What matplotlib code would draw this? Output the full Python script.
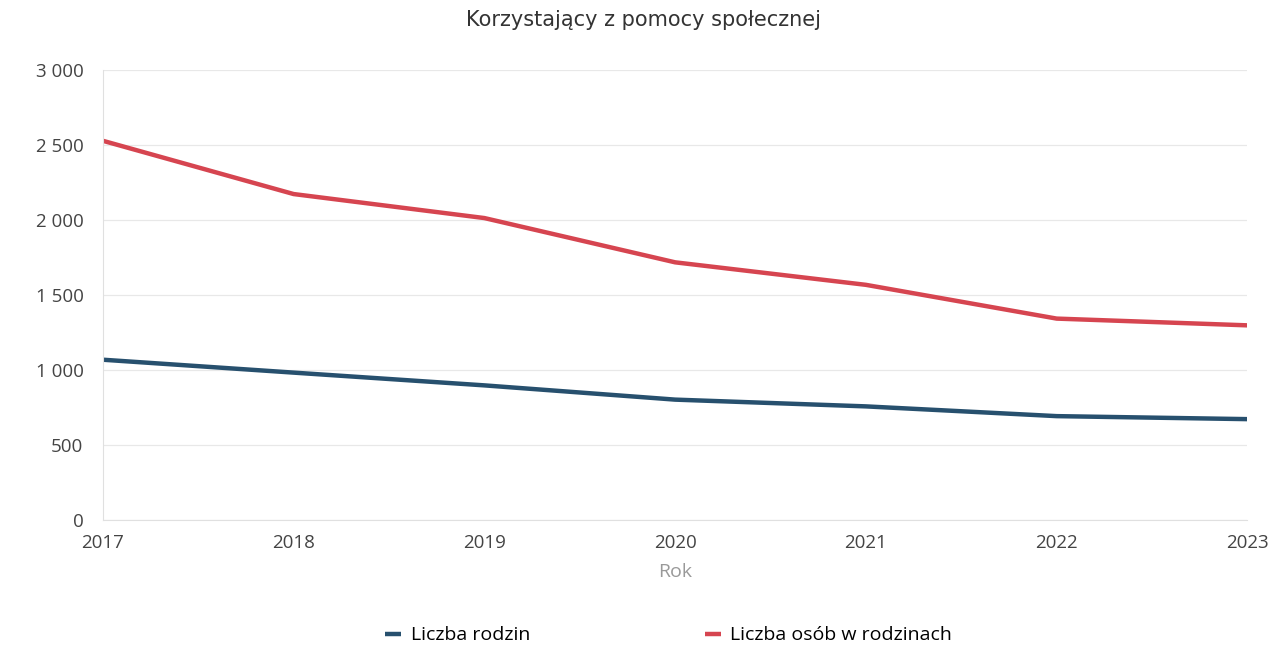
import matplotlib.pyplot as plt
from matplotlib.ticker import FuncFormatter

plt.rcParams['font.family'] = ['Open Sans', 'DejaVu Sans']

years = [2017, 2018, 2019, 2020, 2021, 2022, 2023]
rodziny = [1066, 980, 895, 800, 755, 690, 670]        # Liczba rodzin
osoby = [2525, 2170, 2010, 1715, 1565, 1340, 1295]    # Liczba osób w rodzinach

y_ticks = [0, 500, 1000, 1500, 2000, 2500, 3000]

title = 'Korzystający z pomocy społecznej'
blue = '#27506e'
red = '#d64550'

fig = plt.figure(figsize=(12.86, 6.62), dpi=100)
ax = fig.add_axes([0.08, 0.215, 0.89, 0.68])

ax.plot(years, rodziny, color=blue, linewidth=3.2, solid_capstyle='butt',
        solid_joinstyle='round', label='Liczba rodzin')
ax.plot(years, osoby, color=red, linewidth=3.2, solid_capstyle='butt',
        solid_joinstyle='round', label='Liczba osób w rodzinach')

ax.set_xlim(years[0], years[-1])
ax.set_ylim(0, 3000)
ax.set_xticks(years)
ax.set_yticks(y_ticks)
ax.yaxis.set_major_formatter(FuncFormatter(lambda v, p: f'{int(v):,}'.replace(',', ' ')))

ax.grid(True, axis='y', color='#e8e8e8', linewidth=0.9)
ax.set_axisbelow(True)
for side in ['top', 'right']:
    ax.spines[side].set_visible(False)
ax.spines['left'].set_color('#e0e0e0')
ax.spines['bottom'].set_color('#e0e0e0')
ax.tick_params(length=0, labelsize=13.5, colors='#444444')
ax.tick_params(axis='y', pad=14)
ax.tick_params(axis='x', pad=10)

ax.set_xlabel('Rok', fontsize=14, color='#999999', labelpad=8)
fig.suptitle(title, fontsize=15, color='#333333', y=0.985,
             family=['DejaVu Sans'])

fig.legend(loc='lower center', ncol=2, frameon=False, fontsize=14,
           handlelength=0.8, handletextpad=0.5, columnspacing=9,
           bbox_to_anchor=(0.52, 0.0))

fig.savefig('out.png', dpi=100)
